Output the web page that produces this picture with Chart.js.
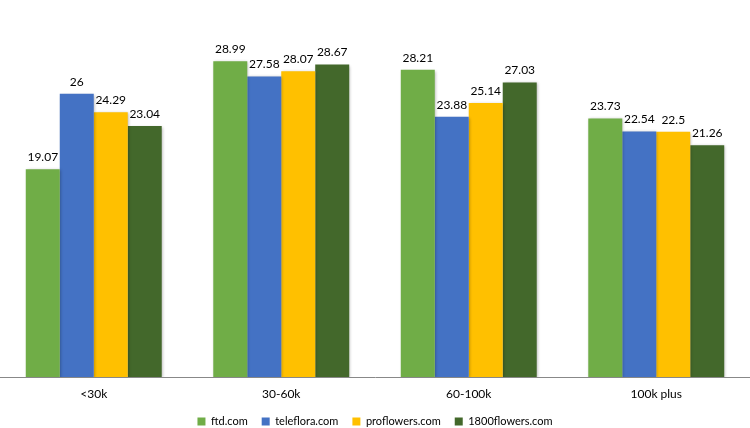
<!DOCTYPE html>
<html>
<head>
<meta charset="utf-8">
<script src="https://cdn.jsdelivr.net/npm/chart.js@4/dist/chart.umd.min.js"></script>
<style>
  html, body { margin: 0; padding: 0; background: #fff; }
  #wrap { width: 750px; height: 428px; }
</style>
</head>
<body>
<div id="wrap"><canvas id="incomeChart"></canvas></div>
<script>
const categories = ['<30k', '30-60k', '60-100k', '100k plus'];
const ftd = [19.07, 28.99, 28.21, 23.73];
const teleflora = [26, 27.58, 23.88, 22.54];
const proflowers = [24.29, 28.07, 25.14, 22.5];
const flowers1800 = [23.04, 28.67, 27.03, 21.26];

const fontFamily = 'Lato, "Open Sans", sans-serif';

// soft shadow under the bars, like the original
const barShadow = {
  id: 'barShadow',
  beforeDatasetDraw(chart) {
    const c = chart.ctx;
    c.save();
    c.shadowColor = 'rgba(0,0,0,0.3)';
    c.shadowBlur = 3;
    c.shadowOffsetX = 1;
    c.shadowOffsetY = 1;
  },
  afterDatasetDraw(chart) {
    chart.ctx.restore();
  }
};

// draws the value above each bar
const valueLabels = {
  id: 'valueLabels',
  afterDatasetsDraw(chart) {
    const c = chart.ctx;
    c.save();
    c.font = '12px ' + fontFamily;
    c.fillStyle = '#000';
    c.textAlign = 'center';
    c.textBaseline = 'bottom';
    chart.data.datasets.forEach((ds, i) => {
      chart.getDatasetMeta(i).data.forEach((bar, j) => {
        c.fillText(String(ds.data[j]), bar.x, bar.y - 6);
      });
    });
    c.restore();
  }
};

const ctx = document.getElementById('incomeChart').getContext('2d');
const incomeChart = new Chart(ctx, {
  type: 'bar',
  data: {
    labels: categories,
    datasets: [
      { label: 'ftd.com', data: ftd, backgroundColor: '#70AD47' },
      { label: 'teleflora.com', data: teleflora, backgroundColor: '#4472C4' },
      { label: 'proflowers.com', data: proflowers, backgroundColor: '#FFC000' },
      { label: '1800flowers.com', data: flowers1800, backgroundColor: '#43682B' },
    ],
  },
  options: {
    responsive: true,
    maintainAspectRatio: false,
    animation: false,
    layout: { padding: { top: 0, left: 0, right: 0, bottom: -9 } },
    datasets: {
      bar: { categoryPercentage: 0.725, barPercentage: 1.0 },
    },
    plugins: {
      legend: {
        position: 'bottom',
        labels: {
          boxWidth: 8,
          boxHeight: 8,
          padding: 14,
          color: '#000',
          font: { size: 11, family: fontFamily },
        },
      },
      tooltip: { enabled: false },
    },
    scales: {
      x: {
        grid: { display: false, drawTicks: false },
        border: { display: true, color: '#888' },
        ticks: { color: '#000', padding: 10, font: { size: 12, family: fontFamily } },
        afterFit(scale) { scale.height = 25; },
      },
      y: {
        display: false,
        min: 0,
        max: 34.6,
      },
    },
  },
  plugins: [barShadow, valueLabels],
});
</script>
</body>
</html>
